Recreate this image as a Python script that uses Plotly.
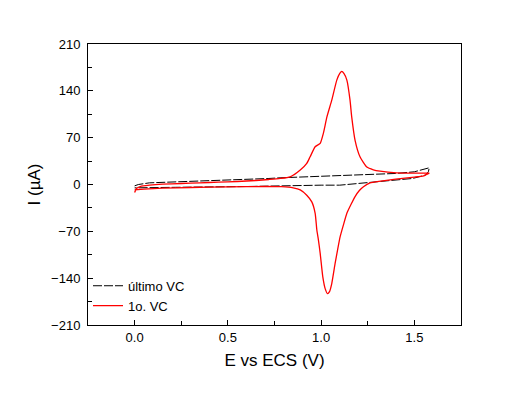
import plotly.graph_objects as go

# Red: first CV (forward then reverse scan)
red_fwd_x = [0.0, 0.01, 0.03, 0.08, 0.15, 0.25, 0.35, 0.45, 0.55, 0.65, 0.72, 0.78, 0.834, 0.888, 0.923,
             0.941, 0.968, 0.995, 1.012, 1.031, 1.057, 1.084, 1.1, 1.111, 1.122, 1.138, 1.155, 1.164,
             1.182, 1.209, 1.245, 1.28, 1.316, 1.405, 1.5, 1.58]
red_fwd_y = [-12, -6, -3, -1, 0.5, 1.5, 2.5, 3.5, 4.5, 6, 7.5, 9, 11.4, 21.5, 31.5,
             41.4, 56.4, 61.5, 76.5, 101, 126, 156, 166, 169, 166, 156, 126, 101,
             66, 41, 26, 22, 20, 17.5, 17, 17]
red_rev_x = [1.58, 1.55, 1.5, 1.4, 1.32, 1.262, 1.227, 1.205, 1.182, 1.16, 1.138, 1.12, 1.102, 1.088,
             1.075, 1.057, 1.045, 1.034, 1.022, 1.009, 0.995, 0.985, 0.977, 0.968, 0.95, 0.923, 0.888,
             0.85, 0.787, 0.7, 0.5, 0.3, 0.15, 0.05, 0.0]
red_rev_y = [17, 13, 11, 8, 5, 2.4, -3.3, -9, -18, -30, -43, -60, -78, -98,
             -118, -148, -160, -163, -156, -138, -103, -82, -68, -43, -26, -16, -8,
             -5, -3.3, -3, -3.5, -4.5, -5.5, -7, -8]

# Black: last CV
blk_fwd_x = [0.0, 0.02, 0.08, 0.45, 0.72, 0.78, 1.0, 1.13, 1.4, 1.5, 1.58]
blk_fwd_y = [-2, 0, 2.5, 5.7, 9, 10, 12, 14, 16.5, 19, 25]
blk_rev_x = [1.58, 1.575, 1.56, 1.49, 1.315, 1.1, 1.0, 0.8, 0.6, 0.22, 0.05, 0.0]
blk_rev_y = [25, 19, 14, 9, 4, -1, -1, -2.2, -3, -4.2, -5, -5]

y_ticks = [-210, -140, -70, 0, 70, 140, 210]
x_ticks = [0.0, 0.5, 1.0, 1.5]

font = "Liberation Sans"

fig = go.Figure()
fig.add_trace(go.Scatter(x=blk_fwd_x + blk_rev_x, y=blk_fwd_y + blk_rev_y, mode="lines",
                         name="último VC", line=dict(color="black", width=1, dash="9px,2px")))
fig.add_trace(go.Scatter(x=red_fwd_x + red_rev_x, y=red_fwd_y + red_rev_y, mode="lines",
                         name="1o. VC",
                         line=dict(color="#ff0000", width=1.3, shape="spline", smoothing=0.5)))

axis_common = dict(showline=True, linecolor="black", linewidth=1, mirror=True, showgrid=False,
                   zeroline=False, ticks="inside", tickcolor="black", ticklen=5, automargin=False,
                   tickfont=dict(family=font, size=13, color="black"))

# page has an 8px body margin, so the figure is laid out 8px smaller / shifted
fig.update_layout(
    width=509, height=388,
    margin=dict(l=80, r=56, t=36, b=71),
    paper_bgcolor="white", plot_bgcolor="white",
    showlegend=True,
    legend=dict(x=0.0, y=0.015, xanchor="left", yanchor="bottom", bgcolor="rgba(0,0,0,0)",
                font=dict(family=font, size=13, color="black"), itemwidth=30, tracegroupgap=0),
    xaxis=dict(range=[-0.25, 1.75], tickvals=x_ticks, tickformat=".1f",
               minor=dict(ticks="inside", ticklen=4, tickcolor="black", dtick=0.25, tick0=0),
               title=dict(text="E vs ECS (V)", font=dict(family=font, size=17, color="black"), standoff=10),
               **axis_common),
    yaxis=dict(range=[-210, 210], tickvals=y_ticks, ticklabelstandoff=4,
               minor=dict(ticks="inside", ticklen=4, tickcolor="black", dtick=35, tick0=0),
               title=dict(text="I (µA)", font=dict(family=font, size=17, color="black"), standoff=6),
               **axis_common),
)

fig.write_html("out.html")
